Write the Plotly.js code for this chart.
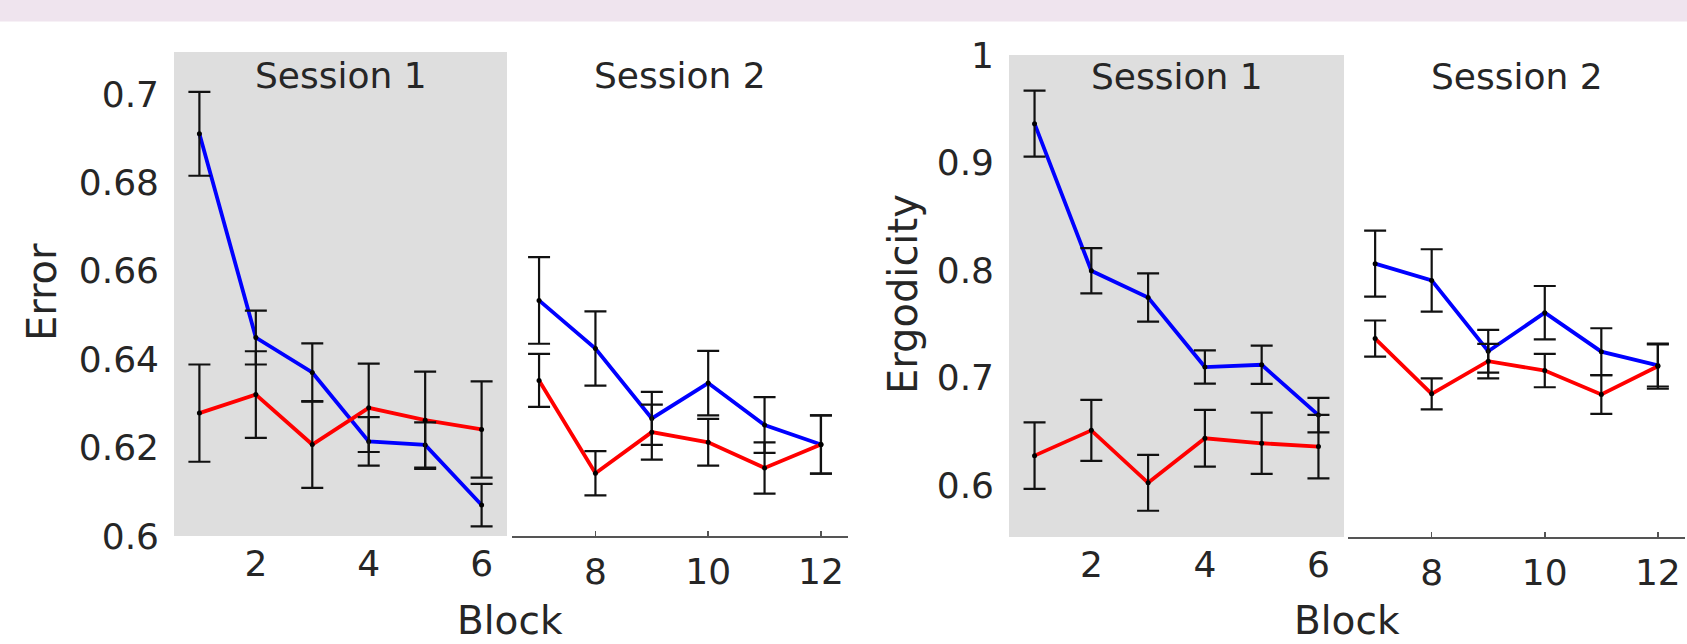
<!DOCTYPE html>
<html>
<head>
<meta charset="utf-8">
<script src="https://cdn.plot.ly/plotly-3.0.1.min.js"></script>
<style>html,body{margin:0;padding:0;background:#fff;}#chart{width:1687px;height:644px;}</style>
</head>
<body>
<div id="chart"></div>
<script>
// ---- data ----
const blocksS1 = [1, 2, 3, 4, 5, 6];
const blocksS2 = [7, 8, 9, 10, 11, 12];
const sessionLabels = ["Session 1", "Session 2"];
const xLabel = "Block";
const leftYLabel = "Error";
const rightYLabel = "Ergodicity";

const errTickVals = [0.6, 0.62, 0.64, 0.66, 0.68, 0.7];
const errTickText = ["0.6", "0.62", "0.64", "0.66", "0.68", "0.7"];
const ergTickVals = [0.6, 0.7, 0.8, 0.9, 1.0];
const ergTickText = ["0.6", "0.7", "0.8", "0.9", "1"];
const s1TickVals = [2, 4, 6];
const s2TickVals = [8, 10, 12];

// Error panel (blocks 1-12)
const errBlue   = [0.691, 0.6449, 0.637, 0.6214, 0.6206, 0.607, 0.6533, 0.6424, 0.6266, 0.6346, 0.6251, 0.6207];
const errBlueSE = [0.0095, 0.0061, 0.0066, 0.0055, 0.0051, 0.0048, 0.0098, 0.0084, 0.006, 0.0073, 0.0063, 0.0066];
const errRed    = [0.6278, 0.632, 0.6207, 0.629, 0.6262, 0.6241, 0.6352, 0.6142, 0.6235, 0.6212, 0.6154, 0.6207];
const errRedSE  = [0.011, 0.0098, 0.0098, 0.01, 0.011, 0.0109, 0.006, 0.005, 0.0062, 0.0053, 0.0058, 0.0066];

// Ergodicity panel (blocks 1-12)
const ergBlue   = [0.9361, 0.7993, 0.7744, 0.7097, 0.7118, 0.665, 0.8059, 0.7903, 0.7244, 0.7603, 0.724, 0.7112];
const ergBlueSE = [0.0307, 0.021, 0.0225, 0.0155, 0.0178, 0.016, 0.0307, 0.029, 0.0199, 0.0248, 0.0218, 0.0196];
const ergRed    = [0.6273, 0.6508, 0.602, 0.6434, 0.6388, 0.6357, 0.7362, 0.6848, 0.7152, 0.7064, 0.6842, 0.7105];
const ergRedSE  = [0.031, 0.0283, 0.026, 0.0264, 0.0285, 0.0295, 0.0168, 0.0144, 0.016, 0.0155, 0.018, 0.021];

// ---- styling ----
const FONT = "DejaVu Sans, Verdana, sans-serif";
const TXT = "#262626";
const BLUE = "#0000ff";
const RED = "#ff0000";

function panelTraces(xs, blue, blueSE, red, redSE, xa, ya) {
  const out = [];
  [[blue, blueSE, BLUE], [red, redSE, RED]].forEach(([v, se, col]) => {
    out.push({x: xs, y: v, xaxis: xa, yaxis: ya, type: "scatter", mode: "lines",
      line: {color: col, width: 3.8}, hoverinfo: "skip", showlegend: false});
  });
  [[blue, blueSE], [red, redSE]].forEach(([v, se]) => {
    out.push({x: xs, y: v, xaxis: xa, yaxis: ya, type: "scatter", mode: "markers",
      marker: {color: "#000", size: 5},
      error_y: {type: "data", array: se, visible: true, color: "#111", thickness: 2.2, width: 11},
      showlegend: false});
  });
  return out;
}

const s1 = (a) => a.slice(0, 6);
const s2 = (a) => a.slice(6, 12);

const data = [].concat(
  panelTraces(blocksS1, s1(errBlue), s1(errBlueSE), s1(errRed), s1(errRedSE), "x", "y"),
  panelTraces(blocksS2, s2(errBlue), s2(errBlueSE), s2(errRed), s2(errRedSE), "x2", "y"),
  panelTraces(blocksS1, s1(ergBlue), s1(ergBlueSE), s1(ergRed), s1(ergRedSE), "x3", "y2"),
  panelTraces(blocksS2, s2(ergBlue), s2(ergBlueSE), s2(ergRed), s2(ergRedSE), "x4", "y2")
);

const W = 1687, H = 644;
const px = (v) => v / W;
const py = (v) => 1 - v / H;

const tickFont = {family: FONT, size: 36, color: TXT};

function xS1(domain) {
  return {domain: domain, range: [0.55, 6.45], tickvals: s1TickVals, ticktext: s1TickVals.map(String),
    showline: false, ticks: "", showgrid: false, zeroline: false, tickfont: tickFont,
    ticklabelstandoff: 3, fixedrange: true};
}
function xS2(domain) {
  return {domain: domain, range: [6.52, 12.48], tickvals: s2TickVals, ticktext: s2TickVals.map(String),
    showline: true, linecolor: "#555", linewidth: 2, ticks: "inside", ticklen: 5, tickwidth: 1.5,
    tickcolor: "#555", showgrid: false, zeroline: false, tickfont: tickFont,
    ticklabelstandoff: 3, fixedrange: true};
}

const layout = {
  width: W, height: H,
  margin: {l: 0, r: 0, t: 0, b: 0},
  paper_bgcolor: "#ffffff", plot_bgcolor: "rgba(0,0,0,0)",
  font: {family: FONT, color: TXT},
  showlegend: false,
  xaxis:  Object.assign(xS1([px(174), px(507)]), {anchor: "y"}),
  xaxis2: Object.assign(xS2([px(512), px(848)]), {anchor: "y"}),
  xaxis3: Object.assign(xS1([px(1009), px(1344)]), {anchor: "y2"}),
  xaxis4: Object.assign(xS2([px(1348), px(1685)]), {anchor: "y2"}),
  yaxis: {domain: [py(536), py(52)], range: [0.6, 0.7095], anchor: "x",
    tickvals: errTickVals, ticktext: errTickText, ticks: "", showline: false,
    showgrid: false, zeroline: false, tickfont: tickFont, ticklabelstandoff: 14, fixedrange: true},
  yaxis2: {domain: [py(537), py(55)], range: [0.5516, 1.0], anchor: "x3",
    tickvals: ergTickVals, ticktext: ergTickText, ticks: "", showline: false,
    showgrid: false, zeroline: false, tickfont: tickFont, ticklabelstandoff: 14, fixedrange: true},
  shapes: [
    {type: "rect", xref: "paper", yref: "paper", x0: 0, x1: 1, y0: py(21.5), y1: 1,
      fillcolor: "#efe4ee", line: {width: 0}, layer: "below"},
    {type: "rect", xref: "x domain", yref: "y domain", x0: 0, x1: 1, y0: 0, y1: 1,
      fillcolor: "#dedede", line: {width: 0}, layer: "below"},
    {type: "rect", xref: "x3 domain", yref: "y2 domain", x0: 0, x1: 1, y0: 0, y1: 1,
      fillcolor: "#dedede", line: {width: 0}, layer: "below"}
  ],
  annotations: [
    {text: sessionLabels[0], xref: "x domain", yref: "paper", x: 0.5, y: py(75), showarrow: false,
      xanchor: "center", yanchor: "middle", font: {family: FONT, size: 36, color: TXT}},
    {text: sessionLabels[1], xref: "x2 domain", yref: "paper", x: 0.5, y: py(75), showarrow: false,
      xanchor: "center", yanchor: "middle", font: {family: FONT, size: 36, color: TXT}},
    {text: sessionLabels[0], xref: "x3 domain", yref: "paper", x: 0.5, y: py(77), showarrow: false,
      xanchor: "center", yanchor: "middle", font: {family: FONT, size: 36, color: TXT}},
    {text: sessionLabels[1], xref: "x4 domain", yref: "paper", x: 0.5, y: py(77), showarrow: false,
      xanchor: "center", yanchor: "middle", font: {family: FONT, size: 36, color: TXT}},
    {text: xLabel, xref: "paper", yref: "paper", x: px(510), y: py(620), showarrow: false,
      xanchor: "center", yanchor: "middle", borderpad: 0, font: {family: FONT, size: 39, color: TXT}},
    {text: xLabel, xref: "paper", yref: "paper", x: px(1347), y: py(620), showarrow: false,
      xanchor: "center", yanchor: "middle", borderpad: 0, font: {family: FONT, size: 39, color: TXT}},
    {text: leftYLabel, xref: "paper", yref: "paper", x: px(42), y: py(292), showarrow: false,
      textangle: -90, xanchor: "center", yanchor: "middle", font: {family: FONT, size: 40, color: TXT}},
    {text: rightYLabel, xref: "paper", yref: "paper", x: px(903), y: py(294), showarrow: false,
      textangle: -90, xanchor: "center", yanchor: "middle", font: {family: FONT, size: 40, color: TXT}}
  ]
};

Plotly.newPlot("chart", data, layout, {displayModeBar: false, staticPlot: true});
</script>
</body>
</html>
